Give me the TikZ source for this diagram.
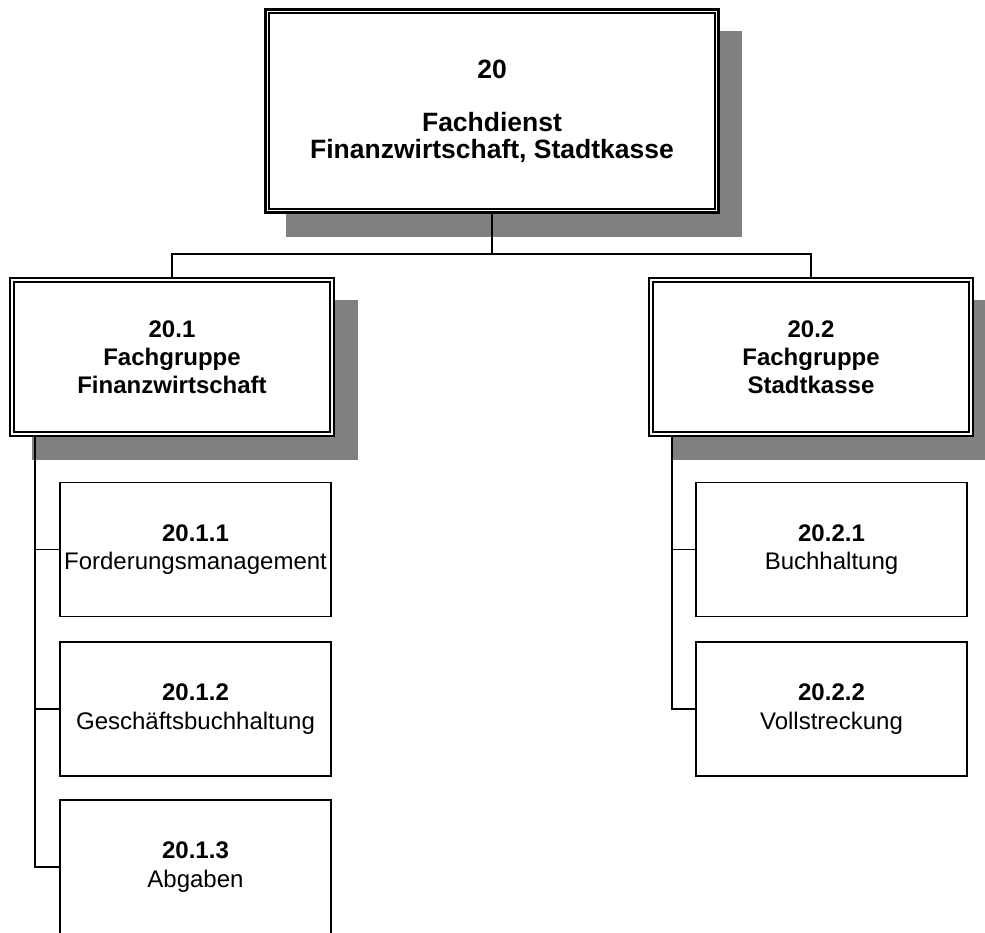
\documentclass[tikz,border=0pt]{standalone}
\usepackage{fontspec}
\setmainfont{Liberation Sans}
\usetikzlibrary{shadows,calc}
\definecolor{shgray}{HTML}{808080}
\begin{document}
\begin{tikzpicture}[x=1pt,y=-1pt,
  topbox/.style={draw, line width=3pt, fill=white, minimum width=453pt, minimum height=203pt,
    inner sep=0pt, align=center, font=\fontsize{26.5}{27}\selectfont\bfseries,
    drop shadow={shadow xshift=22pt, shadow yshift=-23pt, fill=shgray, draw=shgray, opacity=1}},
  midbox/.style={draw, line width=2pt, fill=white, minimum width=324pt, minimum height=158pt,
    inner sep=0pt, align=center, font=\fontsize{24}{28}\selectfont\bfseries,
    drop shadow={shadow xshift=23pt, shadow yshift=-23pt, fill=shgray, draw=shgray, opacity=1}},
  subbox/.style={draw, line width=1.6pt, fill=white, minimum width=271pt, minimum height=134pt,
    inner sep=0pt, align=center, font=\fontsize{24}{28.5}\selectfont},
  innerline/.style={line width=1.6pt},
  conn/.style={line width=1.3pt}]
\useasboundingbox (0,0) rectangle (985,933);
\clip (0,0) rectangle (985,933);

% boxes
\node[topbox] (top) at (492,111) {20\\[26pt]Fachdienst\\Finanzwirtschaft, Stadtkasse};
\draw[innerline] ($(top.south west)+(4.8,-4.8)$) rectangle ($(top.north east)+(-4.8,4.8)$);

\node[midbox] (f1) at (172,357) {20.1\\Fachgruppe\\Finanzwirtschaft};
\draw[innerline] ($(f1.south west)+(5,-5)$) rectangle ($(f1.north east)+(-5,5)$);

\node[midbox] (f2) at (811,357) {20.2\\Fachgruppe\\Stadtkasse};
\draw[innerline] ($(f2.south west)+(5,-5)$) rectangle ($(f2.north east)+(-5,5)$);

\node[subbox] (s111) at (195.5,549.5) {\textbf{20.1.1}\\Forderungsmanagement};
\node[subbox] (s112) at (195.5,709) {\textbf{20.1.2}\\Geschäftsbuchhaltung};
\node[subbox] (s113) at (195.5,867) {\textbf{20.1.3}\\Abgaben};
\node[subbox] (s221) at (831.5,549.5) {\textbf{20.2.1}\\Buchhaltung};
\node[subbox] (s222) at (831.5,709) {\textbf{20.2.2}\\Vollstreckung};

% connectors
\coordinate (bus) at (492,254);
\draw[conn] (top.south) -- (bus);
\draw[conn] (f1.north) |- (bus) -| (f2.north);

\coordinate (lstem) at ($(f1.south west)+(26,0)$);
\draw[conn] (lstem) |- (s111.west);
\draw[conn] (lstem) |- (s112.west);
\draw[conn] (lstem) |- (s113.west);

\coordinate (rstem) at ($(f2.south west)+(24,0)$);
\draw[conn] (rstem) |- (s221.west);
\draw[conn] (rstem) |- (s222.west);
\end{tikzpicture}
\end{document}
